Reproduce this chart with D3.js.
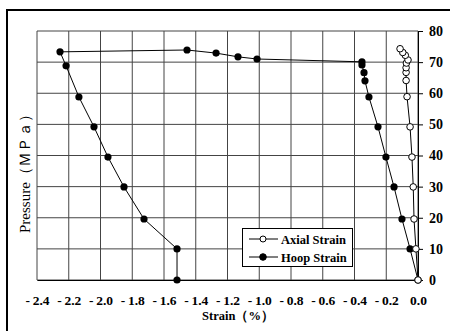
<!DOCTYPE html>
<html><head><meta charset="utf-8">
<script src="https://cdn.jsdelivr.net/npm/d3@7"></script>
<style>body{margin:0;background:#fff}svg{display:block}</style>
</head><body>
<script>
const xTicks = [-2.4,-2.2,-2.0,-1.8,-1.6,-1.4,-1.2,-1.0,-0.8,-0.6,-0.4,-0.2,0.0];
const yTicks = [0,10,20,30,40,50,60,70,80];
const hoopStrain = [0,-0.05,-0.101,-0.151,-0.202,-0.252,-0.309,-0.334,-0.34,-0.353,-0.353,-1.014,-1.134,-1.272,-1.455,-2.255,-2.217,-2.136,-2.041,-1.953,-1.852,-1.726,-1.518,-1.518];
const hoopPressure = [0,10,19.6,29.9,39.5,49.2,58.8,64.0,66.6,69.1,70.1,71.0,71.7,72.9,73.9,73.3,68.8,58.8,49.2,39.5,29.9,19.6,10,0];
const axialStrain = [0,-0.013,-0.025,-0.03,-0.038,-0.05,-0.069,-0.075,-0.075,-0.075,-0.073,-0.063,-0.08,-0.096,-0.113];
const axialPressure = [0,10,19.6,29.9,39.5,49.2,58.9,64.1,66.7,68.2,69.7,70.7,72.2,73.1,74.3];
const seriesNames = ["Axial Strain","Hoop Strain"];

const W=450,H=331;
const svg=d3.select("body").append("svg").attr("width",W).attr("height",H);
svg.append("rect").attr("width",W).attr("height",H).attr("fill","#fff");
svg.append("rect").attr("x",7).attr("y",10).attr("width",460).attr("height",340)
  .attr("fill","none").attr("stroke","#000").attr("stroke-width",2);

const x=d3.scaleLinear().domain([-2.4,0]).range([37,418]);
const y=d3.scaleLinear().domain([0,80]).range([280,31]);
const serif="'Liberation Serif','Times New Roman',serif";

// grid
svg.append("g").selectAll("line").data(xTicks).join("line")
  .attr("x1",d=>x(d)).attr("x2",d=>x(d)).attr("y1",y(0)).attr("y2",y(80))
  .attr("stroke","#444").attr("stroke-width",1);
svg.append("g").selectAll("line").data(yTicks).join("line")
  .attr("x1",x(-2.4)).attr("x2",x(0)).attr("y1",d=>y(d)).attr("y2",d=>y(d))
  .attr("stroke","#444").attr("stroke-width",1);

// x axis (labels only)
const xAxis=d3.axisBottom(x).tickValues(xTicks).tickSize(0).tickPadding(0)
  .tickFormat(d=>d<0?"-\u2009"+d3.format(".1f")(-d):d3.format(".1f")(d));
const gx=svg.append("g").attr("transform",`translate(0,${y(0)})`).call(xAxis);
gx.attr("font-family",null).attr("font-size",null);
gx.select(".domain").attr("stroke","#000");
gx.selectAll("text").attr("y",25).attr("dy",0)
  .style("font-family",serif).style("font-weight","bold").style("font-size","13.5px").attr("fill","#000");

// y axis on right
const yAxis=d3.axisRight(y).tickValues(yTicks).tickSize(5).tickPadding(6);
const gy=svg.append("g").attr("transform",`translate(${x(0)},0)`).call(yAxis);
gy.attr("font-family",null).attr("font-size",null);
gy.select(".domain").attr("stroke","#000");
gy.selectAll("line").attr("stroke","#000");
gy.selectAll("text").style("font-family",serif).style("font-weight","bold").style("font-size","14px").attr("fill","#000");

// lines
const line=d3.line().x(d=>x(d[0])).y(d=>y(d[1]));
const hoop=hoopStrain.map((v,i)=>[v,hoopPressure[i]]);
const axial=axialStrain.map((v,i)=>[v,axialPressure[i]]);
svg.append("path").datum(hoop).attr("d",line).attr("fill","none").attr("stroke","#000").attr("stroke-width",1);
svg.append("path").datum(axial).attr("d",line).attr("fill","none").attr("stroke","#000").attr("stroke-width",1);
svg.append("g").selectAll("circle").data(hoop).join("circle")
  .attr("cx",d=>x(d[0])).attr("cy",d=>y(d[1])).attr("r",3.6).attr("fill","#000");
svg.append("g").selectAll("circle").data(axial).join("circle")
  .attr("cx",d=>x(d[0])).attr("cy",d=>y(d[1])).attr("r",3.3).attr("fill","#fff").attr("stroke","#000").attr("stroke-width",1);

// titles
svg.append("text").attr("x",238).attr("y",320).attr("text-anchor","middle")
  .style("font-family",serif).style("font-weight","bold").style("font-size","12.5px").text("Strain（%）");
svg.append("text").attr("transform","translate(30,233) rotate(-90)")
  .style("font-family",serif).style("font-size","15px").text("Pressure（ＭＰａ）");

// legend
const lg=svg.append("g");
lg.append("rect").attr("x",242.5).attr("y",228.5).attr("width",110).attr("height",38)
  .attr("fill","#fff").attr("stroke","#000").attr("stroke-width",1);
seriesNames.forEach((n,i)=>{
  const yy=239+i*18;
  lg.append("line").attr("x1",249).attr("x2",278).attr("y1",yy).attr("y2",yy).attr("stroke","#000");
  lg.append("circle").attr("cx",263).attr("cy",yy).attr("r",i?3.3:3)
    .attr("fill",i?"#000":"#fff").attr("stroke","#000");
  lg.append("text").attr("x",281).attr("y",yy+4.5).style("font-family",serif)
    .style("font-weight","bold").style("font-size","12.5px").text(n);
});
</script>
</body></html>
